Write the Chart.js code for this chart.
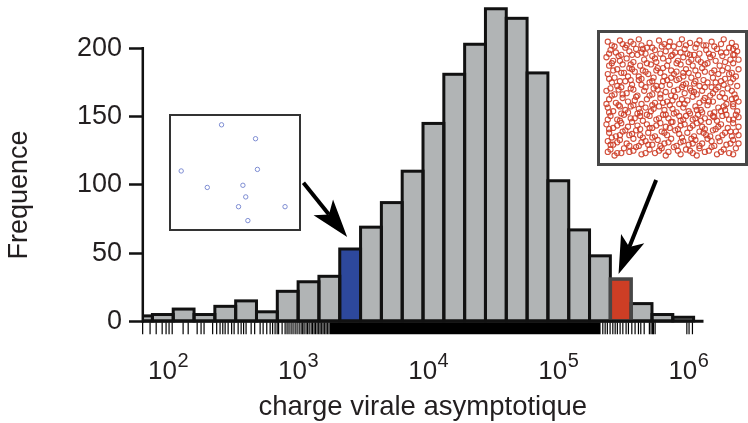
<!DOCTYPE html>
<html>
<head>
<meta charset="utf-8">
<script src="https://cdn.jsdelivr.net/npm/chart.js@4.4.1/dist/chart.umd.min.js"></script>
<style>
  html, body { margin: 0; padding: 0; background: #fff; }
  #wrap { position: relative; width: 748px; height: 423px; overflow: hidden; }
  #main { position: absolute; left: 0; top: 0; }
  .inset { position: absolute; background: #fff; box-sizing: border-box; }
  .inset canvas { display: block; }
</style>
</head>
<body>
<div id="wrap">
  <canvas id="main" width="748" height="423"></canvas>
  <div class="inset" style="left:169px;top:114px;width:132px;height:117px;border:2px solid #333;">
    <canvas id="insetBlue" width="128" height="113"></canvas>
  </div>
  <div class="inset" style="left:597px;top:30px;width:151px;height:136px;border:3px solid #474747;">
    <canvas id="insetRed" width="145" height="130"></canvas>
  </div>
</div>
<script>
/* histogramme de la charge virale asymptotique (axe x en log10) */

// centres des classes, en log10 (largeur 0.16)
var binCenters = [1.80, 1.96, 2.12, 2.28, 2.44, 2.60, 2.76, 2.92, 3.08, 3.24, 3.40, 3.56, 3.72, 3.88,
                  4.04, 4.20, 4.36, 4.52, 4.68, 4.84, 5.00, 5.16, 5.32, 5.48, 5.64, 5.80, 5.96];
var counts = [4, 5, 9, 5, 11, 15, 7, 22, 29, 33, 53, 69, 87, 110,
              145, 181, 203, 229, 222, 182, 103, 67, 48, 31, 13, 5, 3];
var blueIndex = 10;
var redIndex = 23;

var tickExps = [2, 3, 4, 5, 6];
var yTicks = [0, 50, 100, 150, 200];

// rug : valeurs individuelles (log10) dans les zones clairsemees
var rugLeft = [1.805, 1.862, 1.909, 1.955, 1.985, 2.008, 2.032, 2.116, 2.155, 2.224, 2.254, 2.277,
               2.343, 2.374, 2.400, 2.421, 2.439, 2.462, 2.489, 2.508, 2.539, 2.562, 2.581, 2.600,
               2.639, 2.666, 2.708, 2.731, 2.759, 2.785, 2.804, 2.823, 2.839, 2.850, 2.877, 2.900,
               2.915, 2.930, 2.946, 2.961, 2.977, 2.992, 3.008, 3.023, 3.035, 3.046, 3.061, 3.073,
               3.085, 3.100, 3.111, 3.123, 3.134, 3.146, 3.158, 3.169, 3.181, 3.192, 3.204, 3.215,
               3.227, 3.238];
var rugRight = [5.342, 5.360, 5.377, 5.398, 5.419, 5.437, 5.454, 5.475, 5.496, 5.521, 5.539, 5.565,
                5.590, 5.616, 5.634, 5.660, 5.700, 5.713, 5.725, 5.731, 5.744, 5.988, 6.005, 6.031];
// zone ou le rug est sature (noir continu)
var rugDense = [3.245, 5.325];

// encart bleu (classe 10^3.3-10^3.5) et encart rouge (classe 10^5.4-10^5.6), coordonnees 0-100
var bluePts = [[38.6, 96.3], [67.4, 82.8], [4.4, 51.5], [69.0, 53.0], [26.5, 35.5],
               [56.7, 37.6], [59.1, 26.3], [53.0, 16.8], [92.4, 16.8], [60.9, 3.3]];
var redPts = [
  [2,97],[5,94],[11,98],[13,95],[19,97],[25,99],[27,94],[33,96],[40,98],[42,93],[48,97],[55,95],[57,99],[63,96],[70,98],[73,94],[79,97],[86,95],[88,99],[94,96],[97,93],
  [7,93],[16,94],[21,95],[35,92],[44,95],[51,93],[60,94],[68,95],[81,93],[95,91],[28,91],[75,94],
  [4,90],[8,88],[15,92],[18,89],[23,91],[30,87],[31,92],[37,90],[45,89],[47,93],[52,88],[59,91],[61,87],[67,92],[75,90],[77,87],[83,91],[90,88],[92,92],[98,89],
  [3,87],[12,86],[20,86],[27,88],[41,87],[49,85],[56,88],[70,87],[80,86],[86,88],[95,86],[63,86],
  [1,84],[6,81],[10,85],[16,83],[21,80],[24,86],[29,82],[35,85],[38,80],[43,83],[50,86],[54,81],[58,84],[64,82],[66,86],[71,80],[78,84],[82,81],[87,85],[93,82],[96,86],
  [5,79],[11,81],[19,78],[31,79],[37,83],[47,81],[53,79],[62,80],[69,82],[74,78],[89,80],[99,82],
  [3,77],[9,74],[13,78],[18,75],[26,77],[28,73],[34,78],[39,75],[46,77],[49,73],[56,78],[60,74],[65,77],[72,75],[76,79],[81,73],[85,77],[91,75],[95,79],[99,74],
  [6,73],[14,71],[20,74],[30,72],[38,73],[43,75],[53,72],[58,71],[67,73],[79,71],[87,73],[92,70],
  [2,70],[7,67],[12,71],[17,68],[22,72],[27,66],[32,70],[36,67],[41,71],[44,68],[51,70],[55,66],[62,71],[64,67],[69,69],[74,72],[80,67],[84,70],[89,66],[94,71],[97,68],
  [3,66],[11,64],[19,65],[25,68],[35,64],[46,65],[49,67],[58,68],[66,62],[73,65],[82,63],[95,66],
  [5,63],[9,60],[15,64],[20,61],[25,65],[30,59],[33,63],[38,60],[43,64],[48,61],[53,65],[57,59],[60,62],[67,64],[70,60],[76,63],[79,59],[86,64],[88,61],[93,63],[98,60],
  [4,58],[12,59],[21,57],[27,61],[36,58],[42,60],[51,56],[58,61],[64,56],[74,59],[84,59],[94,56],
  [1,56],[7,53],[10,57],[16,54],[19,58],[24,52],[29,56],[35,53],[39,57],[45,55],[49,52],[54,57],[59,54],[63,58],[68,53],[72,56],[78,52],[82,57],[87,54],[91,58],[96,53],
  [5,52],[13,53],[22,48],[33,52],[41,53],[50,48],[57,49],[66,55],[73,48],[80,54],[89,50],[97,50],
  [3,49],[8,46],[13,50],[17,47],[23,51],[27,45],[31,49],[37,46],[41,50],[46,47],[52,51],[55,45],[61,48],[65,51],[70,46],[74,50],[80,47],[85,51],[90,45],[94,49],[99,47],
  [1,45],[10,44],[19,43],[25,41],[35,44],[43,46],[50,41],[59,45],[68,40],[77,47],[88,43],[95,45],
  [2,42],[6,39],[11,43],[15,40],[21,44],[26,38],[30,42],[34,39],[40,43],[44,40],[48,44],[53,38],[58,42],[62,39],[67,43],[71,40],[76,44],[81,38],[84,42],[89,40],[95,43],[98,39],
  [3,38],[12,37],[17,38],[31,36],[36,41],[45,36],[55,35],[63,37],[72,38],[80,35],[86,39],[99,34],
  [4,35],[9,32],[14,36],[19,33],[24,37],[28,31],[33,35],[38,32],[43,36],[47,33],[51,37],[56,31],[60,35],[65,32],[69,36],[74,33],[78,37],[83,31],[87,35],[92,32],[97,36],
  [2,32],[11,31],[22,33],[26,35],[40,33],[49,30],[58,32],[67,33],[71,31],[81,34],[90,36],[95,32],
  [1,28],[6,25],[12,29],[17,26],[20,30],[26,24],[31,28],[35,25],[41,29],[45,26],[50,30],[54,24],[59,28],[63,25],[68,29],[72,26],[77,30],[82,24],[86,28],[91,25],[95,29],[99,26],
  [3,24],[9,27],[15,23],[24,27],[33,25],[38,27],[48,25],[56,27],[65,27],[74,24],[84,26],[93,22],
  [3,21],[8,18],[13,22],[18,19],[23,23],[28,17],[32,21],[37,18],[42,22],[46,19],[52,23],[57,17],[61,21],[66,18],[70,22],[75,19],[80,23],[84,17],[89,21],[94,18],[97,22],
  [5,17],[11,19],[20,20],[26,19],[35,17],[44,21],[55,20],[64,16],[73,21],[78,18],[87,19],[99,19],
  [2,14],[6,11],[11,15],[16,12],[21,16],[25,10],[30,14],[35,11],[39,15],[44,12],[49,16],[53,10],[58,14],[62,11],[67,15],[72,12],[76,16],[81,10],[85,14],[90,11],[95,15],[99,12],
  [4,11],[9,13],[18,10],[27,13],[32,11],[41,10],[47,13],[56,13],[65,12],[70,10],[79,14],[93,12],
  [4,7],[9,4],[14,8],[18,5],[23,9],[27,3],[33,7],[37,4],[42,8],[47,5],[51,9],[56,3],[60,7],[65,4],[70,8],[74,5],[79,9],[83,3],[88,7],[92,4],[97,8],
  [2,5],[7,2],[12,4],[21,6],[30,4],[40,6],[45,2],[54,6],[63,6],[68,2],[77,6],[86,5],[95,3]
];

// fleches : de l'encart vers la classe correspondante (x en log10, y en frequence)
var arrows = [
  { from: [3.041, 101.5], to: [3.377, 61.8] },
  { from: [5.752, 103.6], to: [5.463, 34.7] }
];

var FAM = "'Liberation Sans', Arial, Helvetica, sans-serif";
var TXT = '#231f20';
var GREY = '#b1b4b5';
var BLUE = '#2d489c';
var RED = '#cd3e25';
var RUG_Y = -5;

Chart.defaults.font.family = FAM;
Chart.defaults.color = TXT;

function barColors() {
  return counts.map(function (c, i) {
    if (i === blueIndex) return BLUE;
    if (i === redIndex) return RED;
    return GREY;
  });
}

function drawArrow(ctx, x1, y1, x2, y2) {
  var dx = x2 - x1, dy = y2 - y1, len = Math.sqrt(dx * dx + dy * dy);
  var ux = dx / len, uy = dy / len, nx = -uy, ny = ux;
  var L = 38, W = 12.5, N = 29;
  ctx.beginPath();
  ctx.moveTo(x1, y1);
  ctx.lineTo(x2 - ux * N, y2 - uy * N);
  ctx.lineWidth = 4;
  ctx.lineCap = 'butt';
  ctx.strokeStyle = '#000';
  ctx.stroke();
  ctx.beginPath();
  ctx.moveTo(x2, y2);
  ctx.lineTo(x2 - ux * L + nx * W, y2 - uy * L + ny * W);
  ctx.lineTo(x2 - ux * N, y2 - uy * N);
  ctx.lineTo(x2 - ux * L - nx * W, y2 - uy * L - ny * W);
  ctx.closePath();
  ctx.fillStyle = '#000';
  ctx.fill();
}

var histDecor = {
  id: 'histDecor',
  afterDatasetsDraw: function (chart) {
    var ctx = chart.ctx, area = chart.chartArea;
    var ys = chart.scales.y;
    var meta = chart.getDatasetMeta(0);
    var order = [];
    meta.data.forEach(function (el, i) { if (i !== redIndex) order.push(i); });
    order.push(redIndex);

    ctx.save();
    ctx.beginPath();
    ctx.rect(area.left, 0, area.right - area.left, chart.height);
    ctx.clip();
    order.forEach(function (i) {
      var p = meta.data[i].getProps(['x', 'y', 'base', 'width'], true);
      ctx.lineWidth = i === redIndex ? 3.5 : 3;
      ctx.strokeStyle = i === redIndex ? '#474747' : '#111';
      ctx.strokeRect(p.x - p.width / 2, p.y, p.width, p.base - p.y);
    });
    ctx.restore();

    // axes facon R : axe y de 0 a 200, axe x sur toute la largeur
    var y0 = ys.getPixelForValue(0);
    ctx.save();
    ctx.strokeStyle = '#111';
    ctx.lineWidth = 2.5;
    ctx.beginPath();
    ctx.moveTo(area.left + 0.8, y0 + 1.5);
    ctx.lineTo(area.left + 0.8, ys.getPixelForValue(yTicks[yTicks.length - 1]) - 1.25);
    ctx.stroke();
    ctx.lineWidth = 3;
    ctx.beginPath();
    ctx.moveTo(area.left, y0);
    ctx.lineTo(area.right, y0);
    ctx.stroke();
    ctx.restore();
  },
  afterDraw: function (chart) {
    var ctx = chart.ctx, area = chart.chartArea;
    var xs = chart.scales.x, ys = chart.scales.y;
    ctx.save();
    ctx.fillStyle = TXT;
    ctx.textAlign = 'left';
    ctx.textBaseline = 'alphabetic';
    tickExps.forEach(function (e) {
      var px = xs.getPixelForValue(e);
      ctx.font = '26px ' + FAM;
      var w1 = ctx.measureText('10').width;
      ctx.font = '20px ' + FAM;
      var w2 = ctx.measureText(String(e)).width;
      var x0 = px - (w1 + w2) / 2;
      ctx.font = '26px ' + FAM;
      ctx.fillText('10', x0, area.bottom + 44);
      ctx.font = '20px ' + FAM;
      ctx.fillText(String(e), x0 + w1 + 0.5, area.bottom + 32);
    });

    ctx.translate(27, 195);
    ctx.rotate(-Math.PI / 2);
    ctx.textAlign = 'center';
    ctx.font = '27px ' + FAM;
    ctx.fillText('Frequence', 0, 0);
    ctx.restore();

    ctx.save();
    arrows.forEach(function (a) {
      drawArrow(ctx,
        xs.getPixelForValue(a.from[0]), ys.getPixelForValue(a.from[1]),
        xs.getPixelForValue(a.to[0]), ys.getPixelForValue(a.to[1]));
    });
    ctx.restore();
  }
};

new Chart(document.getElementById('main'), {
  type: 'bar',
  data: {
    datasets: [{
      label: 'frequence',
      data: binCenters.map(function (c, i) { return { x: c, y: counts[i] }; }),
      backgroundColor: barColors(),
      borderWidth: 0,
      barPercentage: 1,
      categoryPercentage: 1
    }, {
      type: 'scatter',
      label: 'rug',
      data: rugLeft.concat(rugRight).map(function (v) { return { x: v, y: RUG_Y }; }),
      pointStyle: 'line',
      pointRotation: 90,
      pointRadius: 6,
      pointBorderWidth: 1.2,
      pointBorderColor: '#000',
      pointHoverRadius: 6
    }, {
      type: 'line',
      label: 'rug dense',
      data: rugDense.map(function (v) { return { x: v, y: RUG_Y }; }),
      borderColor: '#000',
      borderWidth: 12,
      borderCapStyle: 'butt',
      pointRadius: 0,
      fill: false
    }]
  },
  options: {
    responsive: false,
    animation: false,
    devicePixelRatio: 1,
    events: [],
    layout: { padding: { top: 7.4, right: 44.5, bottom: 0, left: 0 } },
    plugins: { legend: { display: false }, tooltip: { enabled: false } },
    scales: {
      x: {
        type: 'linear',
        offset: false,
        min: 1.8,
        max: 6.116,
        afterBuildTicks: function (s) { s.ticks = tickExps.map(function (v) { return { value: v }; }); },
        afterFit: function (s) { s.height = 88; s.paddingLeft = 0; s.paddingRight = 0; },
        grid: { display: false, drawTicks: false, offset: false },
        border: { display: false },
        ticks: { display: false },
        title: {
          display: true,
          text: 'charge virale asymptotique',
          color: TXT,
          font: { size: 27.5, lineHeight: 1.1 },
          padding: { top: 58, bottom: 0 }
        }
      },
      y: {
        type: 'linear',
        min: -10,
        max: 230,
        afterBuildTicks: function (s) { s.ticks = yTicks.map(function (v) { return { value: v }; }); },
        afterFit: function (s) { s.width = 142; s.paddingTop = 0; s.paddingBottom = 0; },
        grid: { drawOnChartArea: false, drawTicks: true, tickLength: 13, tickWidth: 2.5, tickColor: '#111' },
        border: { display: false },
        ticks: { padding: 7, color: TXT, font: { size: 27 } }
      }
    }
  },
  plugins: [histDecor]
});

function insetChart(id, pts, color, radius, width) {
  return new Chart(document.getElementById(id), {
    type: 'scatter',
    data: {
      datasets: [{
        data: pts.map(function (p) { return { x: p[0], y: p[1] }; }),
        pointRadius: radius,
        pointBorderWidth: width,
        pointBorderColor: color,
        pointBackgroundColor: 'rgba(0,0,0,0)',
        clip: false
      }]
    },
    options: {
      responsive: false,
      animation: false,
      devicePixelRatio: 1,
      events: [],
      layout: { padding: 0 },
      plugins: { legend: { display: false }, tooltip: { enabled: false } },
      scales: {
        x: { display: false, min: 0, max: 100 },
        y: { display: false, min: 0, max: 100 }
      }
    }
  });
}

insetChart('insetBlue', bluePts, '#7d8cd2', 2.2, 1);
insetChart('insetRed', redPts, 'rgba(205,62,40,0.9)', 2.6, 1.1);
</script>
</body>
</html>
